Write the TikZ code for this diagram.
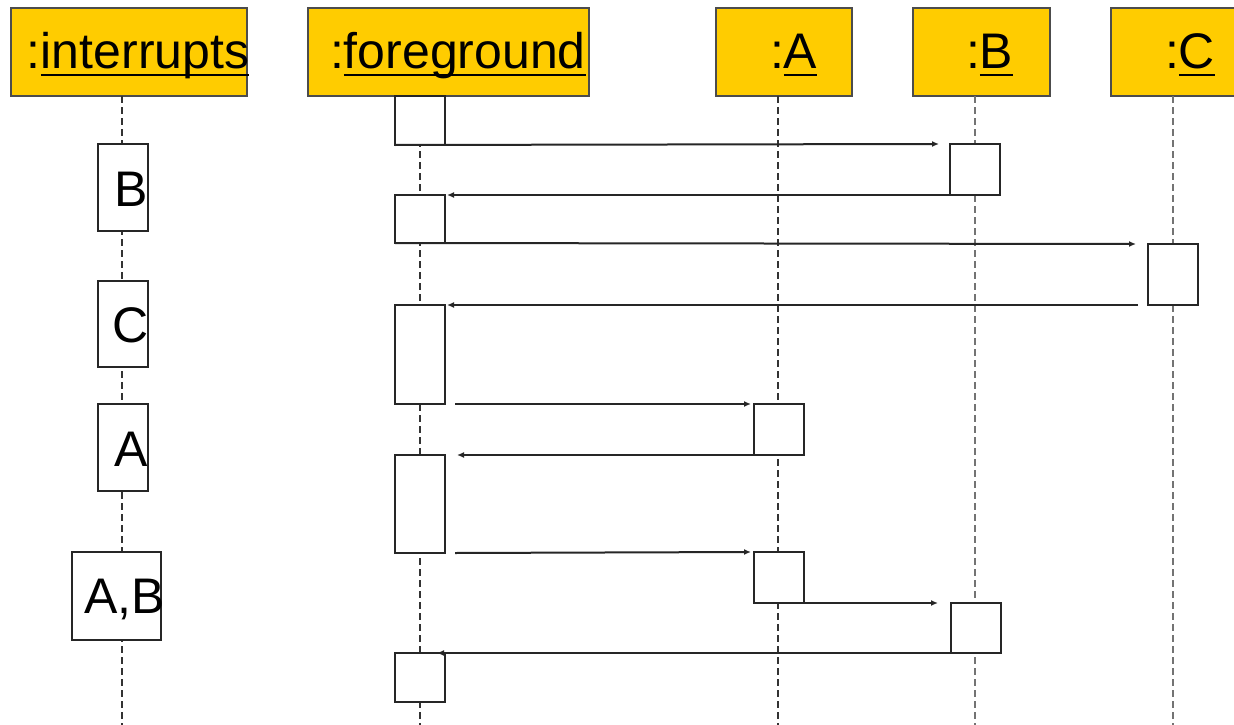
\documentclass[tikz,border=0pt]{standalone}
\usepackage{fontspec}
\setmainfont{Liberation Sans}
\usetikzlibrary{arrows.meta}
\definecolor{hdr}{RGB}{255,204,0}
\newcommand\myul[1]{\setbox0\hbox{#1}\rlap{\rule[-8pt]{\wd0}{2.2pt}}\box0}
\begin{document}
\begin{tikzpicture}[x=1pt,y=-1pt,
  hdrbox/.style={draw=black!70, line width=1.8pt, fill=hdr, inner sep=0pt, outer sep=0pt, anchor=north west, minimum height=88pt},
  actbox/.style={draw=black!85, line width=2.1pt, fill=white, inner sep=0pt, outer sep=0pt, anchor=north west, minimum width=50pt},
  lbl/.style={inner sep=0pt, outer sep=0pt, anchor=base west, font=\fontsize{50}{60}\selectfont},
  life/.style={draw=black!80, line width=1.8pt, dash pattern=on 7pt off 4pt},
  msg/.style={draw=black!85, line width=2pt, -{Latex[length=7pt,width=6pt]}}]
\clip (0,0) rectangle (1234,725);
\fill[white] (0,0) rectangle (1234,725);
% headers
\node[hdrbox, minimum width=236pt] (hI) at (11,8) {};
\node[hdrbox, minimum width=281pt] (hF) at (308,8) {};
\node[hdrbox, minimum width=136pt] (hA) at (716,8) {};
\node[hdrbox, minimum width=137pt] (hB) at (913,8) {};
\node[hdrbox, minimum width=137pt] (hC) at (1111,8) {};
\node[lbl] (tI) at (27,68) {:\myul{interrupts}};
\node[lbl] (tF) at (330,68) {:\myul{foreground}};
\node[lbl] (tA) at (770,68) {:\myul{A}};
\node[lbl] (tB) at (966,68) {:\myul{B}};
\node[lbl] (tC) at (1165,68) {:\myul{C}};
% lifelines
\coordinate (lIt) at (122,96);  \coordinate (lIb) at (122,725);
\coordinate (lFt) at (420,96);  \coordinate (lFb) at (420,725);
\coordinate (lAt) at (778,96);  \coordinate (lAb) at (778,725);
\coordinate (lBt) at (975,96);  \coordinate (lBb) at (975,725);
\coordinate (lCt) at (1173,96); \coordinate (lCb) at (1173,725);
\draw[life] (lIt) -- (lIb);
\draw[life] (lFt) -- (lFb);
\draw[life] (lAt) -- (lAb);
\draw[life, draw=black!55] (lBt) -- (lBb);
\draw[life, draw=black!55] (lCt) -- (lCb);
% activation boxes: foreground
\node[actbox, minimum height=49pt] (f1) at (395,96) {};
\node[actbox, minimum height=48pt] (f2) at (395,195) {};
\node[actbox, minimum height=99pt] (f3) at (395,305) {};
\node[actbox, minimum height=98pt] (f4) at (395,455) {};
\node[actbox, minimum height=49pt] (f5) at (395,653) {};
% A, B, C
\node[actbox, minimum height=51pt] (a1) at (754,404) {};
\node[actbox, minimum height=51pt] (a2) at (754,552) {};
\node[actbox, minimum height=51pt] (b1) at (950,144) {};
\node[actbox, minimum height=50pt] (b2) at (951,603) {};
\node[actbox, minimum height=61pt] (c1) at (1148,244) {};
% interrupts
\node[actbox, minimum height=87pt] (iB) at (98,144) {};
\node[actbox, minimum height=86pt] (iC) at (98,281) {};
\node[actbox, minimum height=87pt] (iA) at (98,404) {};
\node[actbox, minimum height=88pt, minimum width=89pt] (iAB) at (72,552) {};
\node[lbl] (tiB) at (114,206) {B};
\node[lbl] (tiC) at (112,342) {C};
\node[lbl] (tiA) at (114,466) {A};
\node[lbl] (tiAB) at (84,613) {A,B};
% messages
\draw[msg] (f1.south west) -- ([xshift=-11pt]b1.north west);
\draw[msg] (b1.south west) -- ([xshift=2pt]f2.north east);
\draw[msg] (f2.south west) -- ([xshift=-12pt]c1.north west);
\draw[msg] ([xshift=-10pt]c1.south west) -- ([xshift=2pt]f3.north east);
\draw[msg] ([xshift=10pt]f3.south east) -- ([xshift=-3pt]a1.north west);
\draw[msg] (a1.south west) -- ([xshift=12pt]f4.north east);
\draw[msg] ([xshift=10pt]f4.south east) -- ([xshift=-3pt]a2.north west);
\draw[msg] (a2.south west) -- ([xshift=-13pt]b2.north west);
\draw[msg] (b2.south west) -- ([xshift=-8pt]f5.north east);
\end{tikzpicture}
\end{document}
